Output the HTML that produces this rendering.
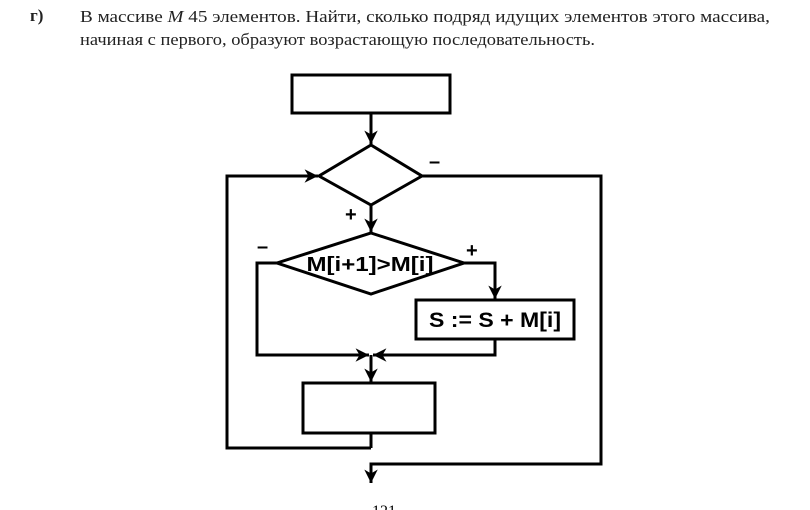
<!DOCTYPE html>
<html><head><meta charset="utf-8"><style>
html,body{margin:0;padding:0;background:#fff;width:810px;height:510px;overflow:hidden}
</style></head><body>
<svg width="810" height="510" viewBox="0 0 810 510" xmlns="http://www.w3.org/2000/svg">
<defs>
<marker id="a" viewBox="0 0 10 10" refX="10" refY="5" markerWidth="4.5" markerHeight="4.5" orient="auto" markerUnits="strokeWidth">
<path d="M0,0 L10,5 L0,10 L3,5 z" fill="#000"/></marker>
</defs>
<g font-family="Liberation Serif, serif" font-size="17" fill="#222">
<text x="30" y="21" font-weight="bold">г)</text>
<text x="80" y="22" textLength="690" lengthAdjust="spacingAndGlyphs">В массиве <tspan font-style="italic">M</tspan> 45 элементов. Найти, сколько подряд идущих элементов этого массива,</text>
<text x="80" y="45" textLength="515" lengthAdjust="spacingAndGlyphs">начиная с первого, образуют возрастающую последовательность.</text>
</g>
<g stroke="#000" stroke-width="3" fill="none">
<rect x="292" y="75" width="158" height="38"/>
<line x1="371" y1="113" x2="371" y2="144" marker-end="url(#a)"/>
<polygon points="371,145 422,176 371,205 319,176"/>
<polyline points="371,448 227,448 227,176 318,176" marker-end="url(#a)"/>
<line x1="371" y1="205" x2="371" y2="232" marker-end="url(#a)"/>
<polyline points="422,176 601,176 601,464 371,464 371,483" marker-end="url(#a)"/>
<polygon points="371,233 464,263 371,294 277,263"/>
<polyline points="277,263 257,263 257,355 369,355" marker-end="url(#a)"/>
<polyline points="464,263 495,263 495,299" marker-end="url(#a)"/>
<rect x="416" y="300" width="158" height="39"/>
<polyline points="495,339 495,355 373,355" marker-end="url(#a)"/>
<line x1="371" y1="355" x2="371" y2="382" marker-end="url(#a)"/>
<rect x="303" y="383" width="132" height="50"/>
<line x1="371" y1="433" x2="371" y2="448"/>
</g>
<g font-family="Liberation Sans, sans-serif" font-weight="bold" fill="#000">
<text x="370" y="271" font-size="20" text-anchor="middle" textLength="127" lengthAdjust="spacingAndGlyphs">M[i+1]&gt;M[i]</text>
<text x="495" y="327" font-size="21" text-anchor="middle" textLength="132" lengthAdjust="spacingAndGlyphs">S := S + M[i]</text>
<text x="429" y="168" font-size="20">–</text>
<text x="257" y="253" font-size="20">–</text>
<text x="345" y="221" font-size="20">+</text>
<text x="466" y="257" font-size="20">+</text>
</g>
<text x="372" y="516" font-family="Liberation Serif, serif" font-size="16" fill="#000">121</text>
</svg>
</body></html>
